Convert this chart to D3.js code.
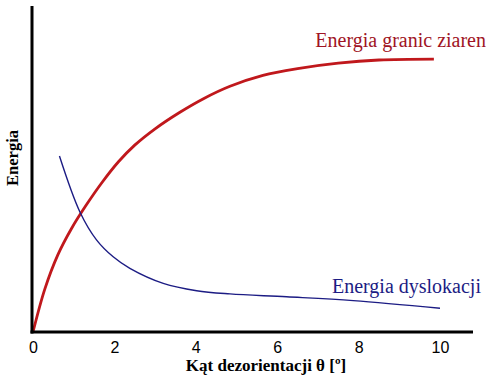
<!DOCTYPE html>
<html><head><meta charset="utf-8">
<script src="https://cdn.jsdelivr.net/npm/d3@7"></script>
<style>html,body{margin:0;padding:0;background:#fff;}</style>
</head><body>
<svg id="c" width="500" height="380"></svg>
<script>
const xTicks = [0, 2, 4, 6, 8, 10];
const grainX = [0, 0.29, 0.61, 0.94, 1.3, 1.7, 2.1, 2.5, 3.0, 3.6, 4.2, 4.84, 5.65, 6.5, 7.5, 8.5, 9.85];
const grainY = [0, 13.4, 24.1, 32.2, 39.5, 46.8, 53.2, 58.4, 63.5, 68.6, 73, 76.8, 80.2, 82.3, 84, 85, 85.3];
const dislX = [0.65, 1.15, 1.56, 1.97, 2.38, 3.2, 4.02, 4.84, 6.23, 7.87, 10];
const dislY = [55, 37.6, 28.8, 23.5, 19.9, 15.2, 12.9, 11.9, 11.0, 9.8, 7.4];
const grainLabel = "Energia granic ziaren";
const dislLabel = "Energia dyslokacji";
const xTitle = "Kąt dezorientacji θ [º]";
const yTitle = "Energia";

const svg = d3.select("#c");
const x = d3.scaleLinear().domain([0, 10]).range([33, 440]);
const y = d3.scaleLinear().domain([0, 100]).range([332, 12]);

const line = d3.line().x(d => x(d[0])).y(d => y(d[1])).curve(d3.curveCatmullRom.alpha(0.5));

svg.append("path").datum(grainX.map((v, i) => [v, grainY[i]]))
  .attr("d", line).attr("fill", "none").attr("stroke", "#c0181c").attr("stroke-width", 2.8);
svg.append("path").datum(dislX.map((v, i) => [v, dislY[i]]))
  .attr("d", line).attr("fill", "none").attr("stroke", "#1c1c84").attr("stroke-width", 1.4);

// axes
svg.append("line").attr("x1", 32).attr("x2", 32).attr("y1", 6).attr("y2", 333.5)
  .attr("stroke", "#000").attr("stroke-width", 3);
svg.append("line").attr("x1", 30.5).attr("x2", 473).attr("y1", 332).attr("y2", 332)
  .attr("stroke", "#000").attr("stroke-width", 3);

const xAxis = d3.axisBottom(x).tickValues(xTicks).tickSize(0).tickPadding(10).tickFormat(d3.format("d"));
const gx = svg.append("g").attr("transform", "translate(0,332)").call(xAxis);
gx.select(".domain").remove();
gx.selectAll("text").attr("font-family", "Liberation Sans, Arial, sans-serif")
  .attr("font-size", 16).attr("fill", "#000");

svg.append("text").attr("x", 266).attr("y", 371).attr("text-anchor", "middle")
  .attr("font-family", "Liberation Serif, Times New Roman, serif").attr("font-weight", "bold")
  .attr("font-size", 17).text(xTitle);
svg.append("text").attr("transform", "translate(18,158) rotate(-90)").attr("text-anchor", "middle")
  .attr("font-family", "Liberation Serif, Times New Roman, serif").attr("font-weight", "bold")
  .attr("font-size", 16.5).text(yTitle);

svg.append("text").attr("x", 486).attr("y", 47).attr("text-anchor", "end")
  .attr("font-family", "Liberation Serif, Times New Roman, serif")
  .attr("font-size", 20).attr("fill", "#a01424").text(grainLabel);
svg.append("text").attr("x", 481).attr("y", 293).attr("text-anchor", "end")
  .attr("font-family", "Liberation Serif, Times New Roman, serif")
  .attr("font-size", 20).attr("fill", "#1c1c84").text(dislLabel);
</script>
</body></html>
